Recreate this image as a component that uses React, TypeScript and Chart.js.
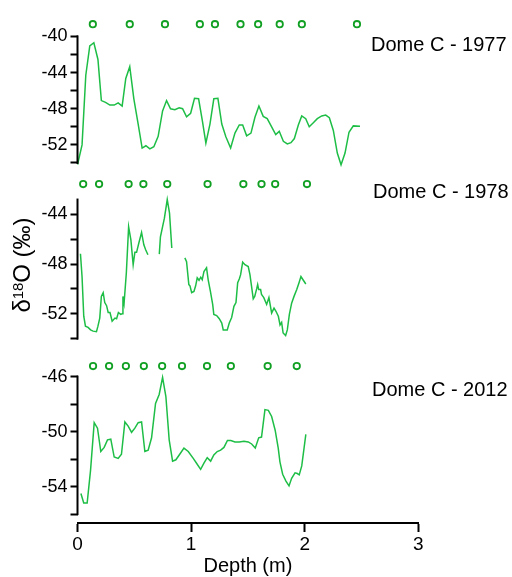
import React, { useEffect, useRef } from 'react';
import { Chart, registerables } from 'chart.js';

Chart.register(...registerables);

const FONT = "'Liberation Sans', Arial, Helvetica, sans-serif";
const LINE_COLOR = '#1ebe46';
const MARK_COLOR = '#12a024';

// Dome C - 1977 profile
const depth1977 = [0.0, 0.04, 0.073, 0.108, 0.144, 0.18, 0.21, 0.247, 0.285, 0.323, 0.358, 0.393, 0.425, 0.46, 0.496, 0.534, 0.569, 0.602, 0.637, 0.672, 0.71, 0.749, 0.784, 0.819, 0.857, 0.895, 0.925, 0.96, 0.996, 1.03, 1.066, 1.1, 1.13, 1.166, 1.2, 1.236, 1.27, 1.306, 1.348, 1.386, 1.424, 1.454, 1.489, 1.527, 1.562, 1.597, 1.635, 1.67, 1.709, 1.745, 1.776, 1.812, 1.847, 1.879, 1.909, 1.944, 1.974, 2.009, 2.04, 2.076, 2.111, 2.15, 2.185, 2.217, 2.252, 2.287, 2.32, 2.355, 2.39, 2.428, 2.487];
const d18O1977 = [-54.2, -52.0, -44.3, -41.05, -40.7, -42.55, -47.1, -47.3, -47.6, -47.6, -47.35, -47.7, -44.65, -43.35, -46.9, -49.7, -52.35, -52.1, -52.45, -52.2, -51.05, -48.25, -47.1, -48.0, -48.1, -47.9, -48.0, -48.9, -48.5, -46.85, -46.9, -49.4, -51.8, -49.7, -46.9, -46.85, -49.7, -51.1, -52.35, -50.7, -49.8, -49.8, -51.0, -50.7, -48.95, -47.7, -48.85, -49.1, -50.0, -50.85, -50.5, -51.6, -51.9, -51.75, -51.3, -49.8, -48.8, -49.1, -50.0, -49.55, -49.1, -48.8, -48.7, -49.0, -50.4, -52.9, -54.2, -52.9, -50.6, -49.9, -49.95];
const marks1977 = [0.135, 0.46, 0.77, 1.077, 1.21, 1.435, 1.59, 1.78, 1.975, 2.46];

// Dome C - 1978 profile (null = missing section)
const depth1978 = [0.026, 0.04, 0.055, 0.07, 0.093, 0.115, 0.137, 0.167, 0.18, 0.196, 0.21, 0.226, 0.24, 0.256, 0.27, 0.286, 0.305, 0.33, 0.344, 0.36, 0.38, 0.393, 0.4, 0.41, 0.43, 0.45, 0.47, 0.49, 0.505, 0.52, 0.54, 0.564, 0.584, 0.6, 0.62, 0.67, 0.72, 0.73, 0.765, 0.79, 0.81, 0.83, 0.89, 0.945, 0.96, 0.98, 0.99, 1.005, 1.025, 1.04, 1.054, 1.07, 1.085, 1.098, 1.113, 1.136, 1.15, 1.17, 1.19, 1.2, 1.225, 1.248, 1.27, 1.283, 1.318, 1.336, 1.357, 1.377, 1.395, 1.41, 1.424, 1.436, 1.454, 1.474, 1.503, 1.518, 1.536, 1.547, 1.56, 1.577, 1.586, 1.595, 1.612, 1.62, 1.64, 1.665, 1.685, 1.709, 1.73, 1.747, 1.768, 1.783, 1.797, 1.81, 1.832, 1.847, 1.865, 1.885, 1.906, 1.93, 1.95, 1.967, 1.988, 2.01];
const d18O1978 = [-47.17, -49.0, -52.2, -53.0, -53.1, -53.3, -53.4, -53.45, -53.0, -52.35, -50.6, -50.3, -51.1, -51.35, -51.9, -51.9, -52.6, -52.35, -52.4, -51.9, -52.05, -52.0, -50.6, -51.15, -48.7, -45.0, -46.05, -48.05, -47.05, -47.05, -46.3, -45.45, -46.45, -46.85, -47.25, null, -47.2, -45.8, -44.3, -42.8, -43.9, -46.7, null, -47.5, -47.8, -49.65, -49.75, -50.3, -50.2, -49.75, -49.1, -49.3, -49.05, -49.25, -48.6, -48.3, -49.25, -50.2, -51.25, -52.05, -52.15, -52.4, -52.75, -53.3, -53.3, -52.75, -52.3, -51.4, -51.1, -49.5, -49.2, -48.85, -47.85, -48.05, -48.2, -48.85, -50.05, -50.8, -50.6, -50.0, -49.65, -50.05, -50.05, -50.45, -50.7, -51.25, -50.7, -51.95, -51.55, -51.8, -52.2, -52.9, -52.7, -53.55, -53.75, -53.3, -52.05, -51.15, -50.6, -50.05, -49.5, -49.0, -49.3, -49.6];
const marks1978 = [0.05, 0.19, 0.45, 0.58, 0.79, 1.145, 1.46, 1.62, 1.74, 2.02];

// Dome C - 2012 profile
const depth2012 = [0.03, 0.055, 0.085, 0.115, 0.147, 0.176, 0.205, 0.235, 0.264, 0.293, 0.323, 0.358, 0.387, 0.417, 0.446, 0.476, 0.505, 0.534, 0.564, 0.593, 0.622, 0.652, 0.687, 0.719, 0.749, 0.778, 0.807, 0.837, 0.866, 0.9, 0.937, 0.975, 1.019, 1.048, 1.084, 1.113, 1.142, 1.172, 1.2, 1.23, 1.26, 1.289, 1.32, 1.35, 1.386, 1.424, 1.465, 1.503, 1.533, 1.565, 1.595, 1.62, 1.65, 1.68, 1.709, 1.74, 1.767, 1.782, 1.806, 1.835, 1.862, 1.885, 1.915, 1.935, 1.952, 1.974, 1.988, 2.01];
const d18O2012 = [-54.5, -55.2, -55.2, -52.8, -49.35, -49.75, -51.45, -51.15, -50.6, -50.55, -51.85, -51.95, -51.65, -49.3, -49.6, -50.05, -49.75, -49.35, -49.3, -51.45, -51.35, -50.45, -47.95, -47.3, -46.05, -47.45, -50.6, -52.15, -52.05, -51.65, -51.2, -51.45, -51.95, -52.3, -52.75, -52.3, -51.9, -52.15, -51.7, -51.45, -51.35, -51.15, -50.65, -50.65, -50.75, -50.75, -50.7, -50.75, -50.9, -51.2, -50.45, -50.4, -48.4, -48.45, -48.9, -49.9, -51.2, -52.2, -53.1, -53.6, -53.95, -53.4, -53.0, -53.05, -53.15, -52.5, -51.6, -50.2];
const marks2012 = [0.137, 0.278, 0.426, 0.584, 0.745, 0.92, 1.14, 1.35, 1.674, 1.93];

// Axis ticks per panel
const ticks1977 = [-54, -52, -50, -48, -46, -44, -42, -40];
const labels1977 = [-52, -48, -44, -40];
const ticks1978 = [-54, -52, -50, -48, -46, -44];
const labels1978 = [-52, -48, -44];
const ticks2012 = [-56, -54, -52, -50, -48, -46];
const labels2012 = [-54, -50, -46];
const depthTicks = [0, 1, 2, 3];

const W = 512;
const H = 577;
const AREA_LEFT = 77.5;
const AREA_RIGHT = 418.3;
const X_AXIS_HEIGHT = 54;

interface Panel {
  depth: number[];
  values: (number | null)[];
  marks: number[];
  markLevel: number;
  yMin: number;
  yMax: number;
  axisFrom: number;
  axisTo: number;
  ticks: number[];
  labels: number[];
  top: number;
  bottom: number;
  showX: boolean;
}

const panels: Panel[] = [
  {
    depth: depth1977, values: d18O1977, marks: marks1977, markLevel: -38.65,
    yMin: -55, yMax: -37.5, axisFrom: -54, axisTo: -40,
    ticks: ticks1977, labels: labels1977, top: 5, bottom: 172, showX: false,
  },
  {
    depth: depth1978, values: d18O1978, marks: marks1978, markLevel: -41.55,
    yMin: -55, yMax: -40.5, axisFrom: -54, axisTo: -42.8,
    ticks: ticks1978, labels: labels1978, top: 171, bottom: 351, showX: false,
  },
  {
    depth: depth2012, values: d18O2012, marks: marks2012, markLevel: -45.23,
    yMin: -56.65, yMax: -44.5, axisFrom: -56, axisTo: -46,
    ticks: ticks2012, labels: labels2012, top: 356, bottom: 523, showX: true,
  },
];

// Vertical axis line spanning only the ticked range
const yAxisLine = {
  id: 'yAxisLine',
  afterDraw(chart: any, _args: any, opts: any) {
    const s = chart.scales.y;
    const ctx = chart.ctx;
    const y0 = s.getPixelForValue(opts.from);
    const y1 = s.getPixelForValue(opts.to);
    ctx.save();
    ctx.strokeStyle = '#000';
    ctx.lineWidth = 2;
    ctx.lineCap = 'square';
    ctx.beginPath();
    ctx.moveTo(s.right, y0);
    ctx.lineTo(s.right, y1);
    ctx.stroke();
    ctx.restore();
  },
};

function makeConfig(p: Panel): any {
  return {
    type: 'line',
    data: {
      datasets: [
        {
          data: p.depth.map((x, i) => ({ x, y: p.values[i] })),
          borderColor: LINE_COLOR,
          borderWidth: 1.5,
          pointRadius: 0,
          tension: 0,
          spanGaps: false,
          fill: false,
        },
        {
          type: 'scatter',
          data: p.marks.map((x) => ({ x, y: p.markLevel })),
          showLine: false,
          pointRadius: 3.2,
          pointBorderWidth: 1.8,
          pointBorderColor: MARK_COLOR,
          pointBackgroundColor: 'rgba(255,255,255,0)',
        },
      ],
    },
    options: {
      animation: false,
      responsive: false,
      events: [],
      layout: {
        autoPadding: false,
        padding: {
          left: 0,
          right: W - AREA_RIGHT,
          top: p.top,
          bottom: p.showX ? H - p.bottom - X_AXIS_HEIGHT : H - p.bottom,
        },
      },
      plugins: {
        legend: { display: false },
        tooltip: { enabled: false },
        yAxisLine: { from: p.axisFrom, to: p.axisTo },
      },
      scales: {
        x: {
          type: 'linear',
          min: 0,
          max: 3,
          display: p.showX,
          afterBuildTicks: (s: any) => {
            s.ticks = depthTicks.map((v) => ({ value: v }));
          },
          afterFit: (s: any) => {
            s.height = p.showX ? X_AXIS_HEIGHT : 0;
          },
          ticks: {
            color: '#000',
            font: { family: FONT, size: 19 },
            padding: 1,
            maxRotation: 0,
            autoSkip: false,
          },
          grid: {
            drawOnChartArea: false,
            drawTicks: true,
            tickLength: 9,
            tickWidth: 2,
            tickColor: '#000',
          },
          border: { display: true, width: 2, color: '#000' },
          title: {
            display: true,
            text: 'Depth (m)',
            color: '#000',
            font: { family: FONT, size: 20 },
            padding: { top: 0, bottom: -1 },
          },
        },
        y: {
          type: 'linear',
          min: p.yMin,
          max: p.yMax,
          afterBuildTicks: (s: any) => {
            s.ticks = p.ticks.map((v) => ({ value: v }));
          },
          afterFit: (s: any) => {
            s.width = AREA_LEFT;
          },
          ticks: {
            color: '#000',
            font: { family: FONT, size: 18 },
            padding: 3,
            autoSkip: false,
            callback: (v: any) => (p.labels.includes(Number(v)) ? String(v) : ''),
          },
          grid: {
            drawOnChartArea: false,
            drawTicks: true,
            tickLength: 7,
            tickWidth: 2,
            tickColor: '#000',
          },
          border: { display: false },
        },
      },
    },
    plugins: [yAxisLine],
  };
}

const canvasStyle: React.CSSProperties = {
  position: 'absolute',
  left: 0,
  top: 0,
  width: W,
  height: H,
};

const coreLabel = (top: number, left: number): React.CSSProperties => ({
  position: 'absolute',
  left,
  top,
  fontFamily: FONT,
  fontSize: 20,
  lineHeight: '20px',
  color: '#000',
  whiteSpace: 'nowrap',
});

export default function App() {
  const c1 = useRef<HTMLCanvasElement>(null);
  const c2 = useRef<HTMLCanvasElement>(null);
  const c3 = useRef<HTMLCanvasElement>(null);

  useEffect(() => {
    const refs = [c1, c2, c3];
    const charts = panels.map((p, i) => new Chart(refs[i].current as HTMLCanvasElement, makeConfig(p)));
    return () => charts.forEach((c) => c.destroy());
  }, []);

  return (
    <div style={{ position: 'fixed', left: 0, top: 0, width: W, height: H, background: '#fff', overflow: 'hidden' }}>
      <canvas ref={c1} width={W} height={H} style={canvasStyle} />
      <canvas ref={c2} width={W} height={H} style={canvasStyle} />
      <canvas ref={c3} width={W} height={H} style={canvasStyle} />
      <div style={coreLabel(34, 371)}>Dome C - 1977</div>
      <div style={coreLabel(180.5, 373)}>Dome C - 1978</div>
      <div style={coreLabel(379, 372)}>Dome C - 2012</div>
      <div
        style={{
          position: 'absolute',
          left: 22.3 - 80,
          top: 252,
          width: 160,
          height: 26,
          lineHeight: '26px',
          textAlign: 'center',
          fontFamily: FONT,
          fontSize: 24,
          color: '#000',
          transform: 'rotate(-90deg)',
          whiteSpace: 'nowrap',
        }}
      >
        δ<span style={{ fontSize: '0.62em', position: 'relative', top: '-0.5em' }}>18</span>O (‰)
      </div>
    </div>
  );
}
